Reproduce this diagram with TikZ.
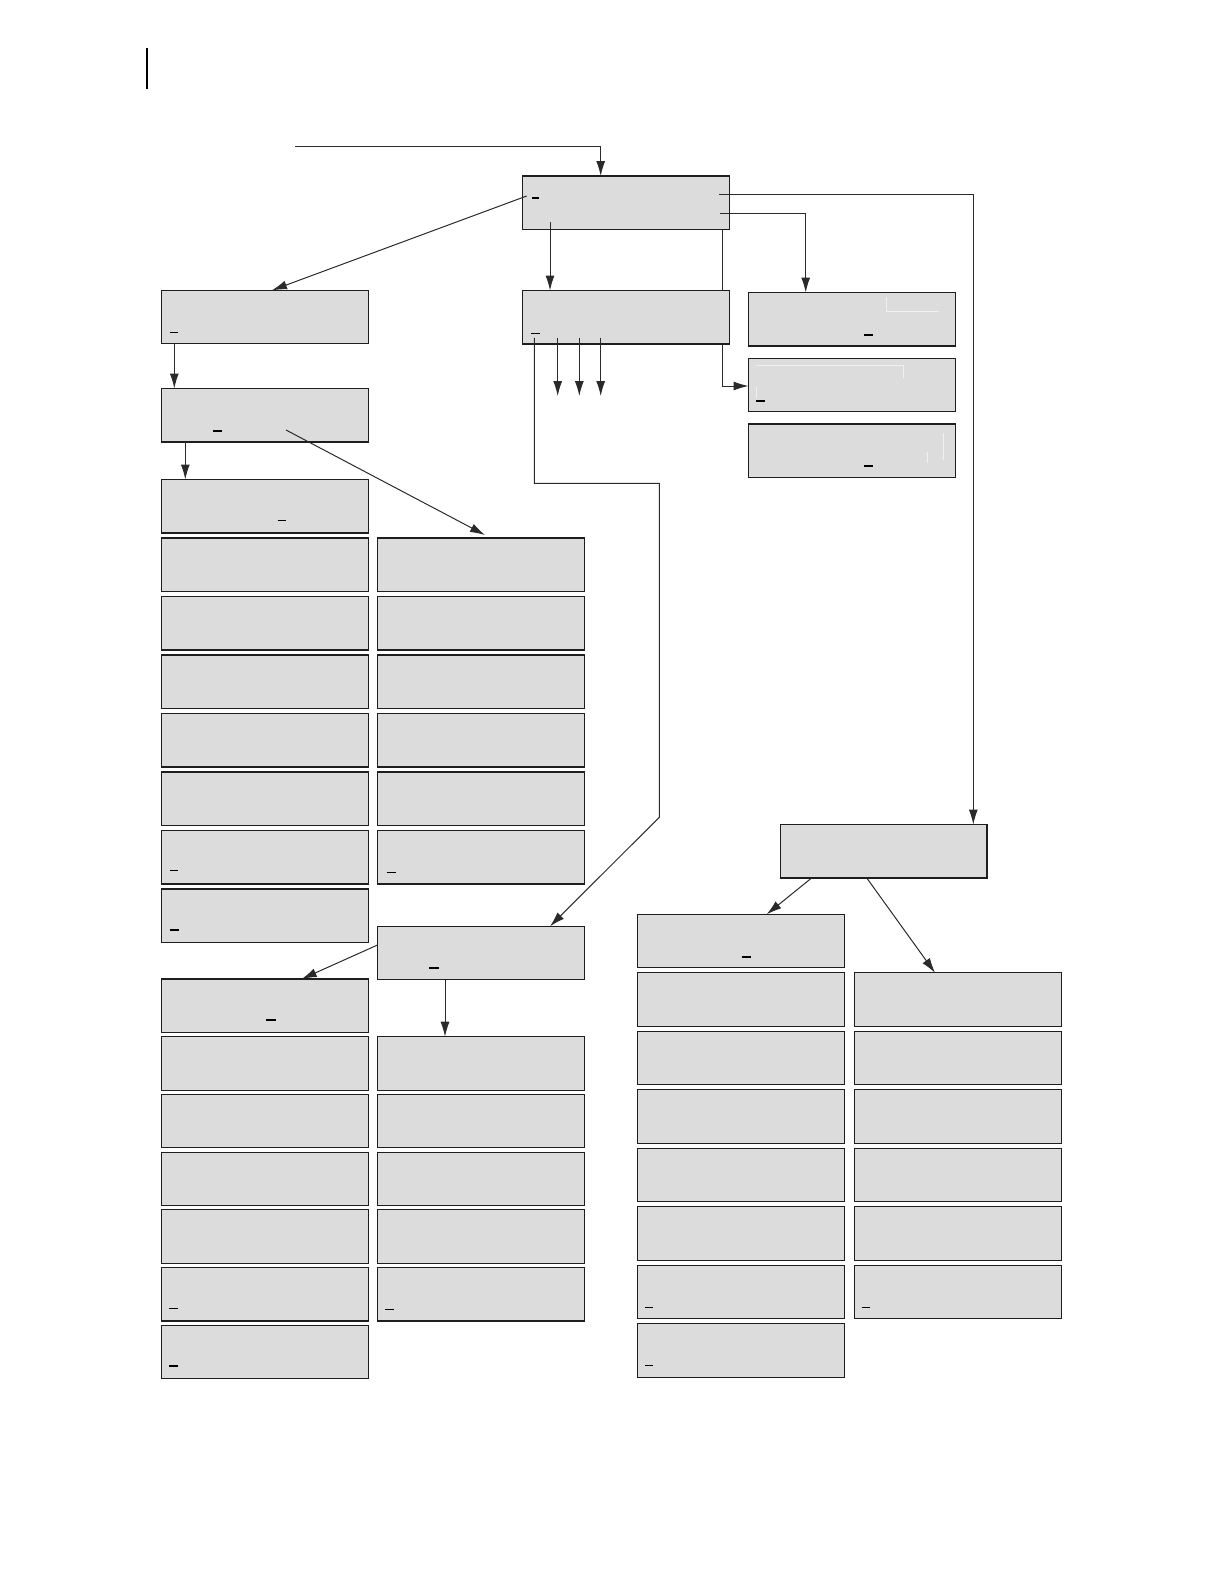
\documentclass[tikz,border=0pt]{standalone}
\usetikzlibrary{arrows.meta,backgrounds}
\definecolor{boxgray}{HTML}{DCDCDC}
\definecolor{edgegray}{HTML}{1E1E1E}
\definecolor{linegray}{HTML}{2A2A2A}
\definecolor{faint}{HTML}{F0F0F0}
\tikzset{
  bx/.style={draw=edgegray, fill=boxgray, line width=1.2pt, minimum width=206.6pt,
    minimum height=53.4pt, inner sep=0pt, outer sep=0pt, anchor=north west},
  conn/.style={draw=linegray, line width=1pt},
  arr/.style={conn, -{Latex[length=15pt,width=9pt]}},
  us/.style={draw=black, line width=1.1pt},
  ghost/.style={draw=faint, line width=1pt}
}
\begin{document}
\begin{tikzpicture}[x=1pt,y=-1pt]
\useasboundingbox (0,0) rectangle (1224,1584);
% page mark
\draw[line width=2pt] (146.7,48.3) -- (146.7,89.3);

% top section
\node[bx] (T) at (522.7,176) {};
\node[bx] (S) at (522.7,290.5) {};
\node[bx] (L1) at (161.7,290.3) {};
\node[bx] (L2) at (161.7,388.5) {};
\node[bx] (R1) at (748.5,292.5) {};
\node[bx] (R2) at (748.5,358.3) {};
\node[bx] (R3) at (748.5,424) {};

% upper left columns
\foreach \k in {0,...,7} \node[bx] (A\k) at (161.7,{479.5+58.5*\k}) {};
\foreach \k in {1,...,6} \node[bx] (B\k) at (377.5,{479.5+58.5*\k}) {};

% middle lower
\node[bx] (M) at (377.5,926.3) {};
\foreach \k in {0,...,6} \node[bx] (LA\k) at (161.7,{979+57.7*\k}) {};
\foreach \k in {1,...,5} \node[bx] (LB\k) at (377.5,{979+57.7*\k}) {};

% right lower
\node[bx] (RB) at (780.3,824.5) {};
\foreach \k in {0,...,7} \node[bx] (RC\k) at (637.5,{914.3+58.5*\k}) {};
\foreach \k in {1,...,6} \node[bx] (RD\k) at (854.7,{914.3+58.5*\k}) {};

% connectors
\coordinate (in) at (295,146.3);
\draw[arr] (in) -| ([xshift=78pt]T.north west);
\draw[arr] ([xshift=4pt,yshift=-20pt]T.north west) -- ([xshift=110.3pt]L1.north west);
\draw[arr] ([xshift=27.3pt,yshift=-46pt]T.north west) -- ([xshift=27.3pt]S.north west);
\draw[arr] ([xshift=196.6pt,yshift=-18.7pt]T.north west) -| ([xshift=193pt]RB.north west);
\draw[arr] ([xshift=197.3pt,yshift=-37.7pt]T.north west) -| ([xshift=57.2pt]R1.north west);
\begin{pgfonlayer}{background}
\draw[arr] ([xshift=-6.6pt]T.south east) |- ([yshift=-1pt]R2.west);
\end{pgfonlayer}

\coordinate (e1) at (557.7,396);
\coordinate (e2) at (579.3,396);
\coordinate (e3) at (600.7,396);
\draw[arr] ([xshift=35pt,yshift=6pt]S.south west) -- (e1);
\draw[arr] ([xshift=56.6pt,yshift=6pt]S.south west) -- (e2);
\draw[arr] ([xshift=78pt,yshift=6pt]S.south west) -- (e3);

\coordinate (k2) at (659.3,483.3);
\coordinate (k3) at (659.3,817.3);
\draw[arr] ([xshift=11.6pt,yshift=6pt]S.south west) |- (k2) -- (k3) -- ([xshift=172.5pt]M.north west);

\draw[arr] ([xshift=12.6pt]L1.south west) -- ([xshift=12.6pt]L2.north west);
\draw[arr] ([xshift=23.6pt]L2.south west) -- ([xshift=23.6pt]A0.north west);
\draw[arr] ([xshift=124.3pt,yshift=-41.5pt]L2.north west) -- ([xshift=107.5pt,yshift=3pt]B1.north west);

\draw[arr] ([yshift=-18.7pt]M.north west) -- ([xshift=140pt]LA0.north west);
\draw[arr] ([xshift=67.5pt]M.south west) -- ([xshift=67.5pt]LB1.north west);

\draw[arr] ([xshift=31.4pt]RB.south west) -- ([xshift=129.2pt]RC0.north west);
\draw[arr] ([xshift=86.4pt]RB.south west) -- ([xshift=80.3pt]RD1.north west);

% faint marks inside right boxes
\draw[ghost] (886,297) -- (886,311.7) -- (939,311.7);
\draw[ghost] (756,365) -- (903,365) -- (903,378);
\draw[ghost] (756,387) -- (756,398);
\draw[ghost] (943,433) -- (943,460);
\draw[ghost] (927,452) -- (927,463);

% short underscore marks
\draw[us] (532,198) -- (539,198);
\draw[us] (531,333.3) -- (540,333.3);
\draw[us] (170,332.7) -- (178,332.7);
\draw[us] (213.3,431) -- (222,431);
\draw[us] (277.7,520.7) -- (286,520.7);
\draw[us] (864,335) -- (873,335);
\draw[us] (756,401) -- (765,401);
\draw[us] (864,466) -- (873,466);
\draw[us] (170,870.7) -- (178,870.7);
\draw[us] (170,930) -- (179,930);
\draw[us] (386.7,872.3) -- (396,872.3);
\draw[us] (429,968) -- (439,968);
\draw[us] (266,1020) -- (276,1020);
\draw[us] (169,1308.3) -- (178,1308.3);
\draw[us] (169,1366) -- (178,1366);
\draw[us] (385.3,1309.3) -- (394,1309.3);
\draw[us] (742.3,957) -- (751,957);
\draw[us] (645.3,1307.8) -- (653,1307.8);
\draw[us] (645.3,1365.4) -- (653,1365.4);
\draw[us] (861.5,1307.8) -- (869.5,1307.8);
\end{tikzpicture}
\end{document}
